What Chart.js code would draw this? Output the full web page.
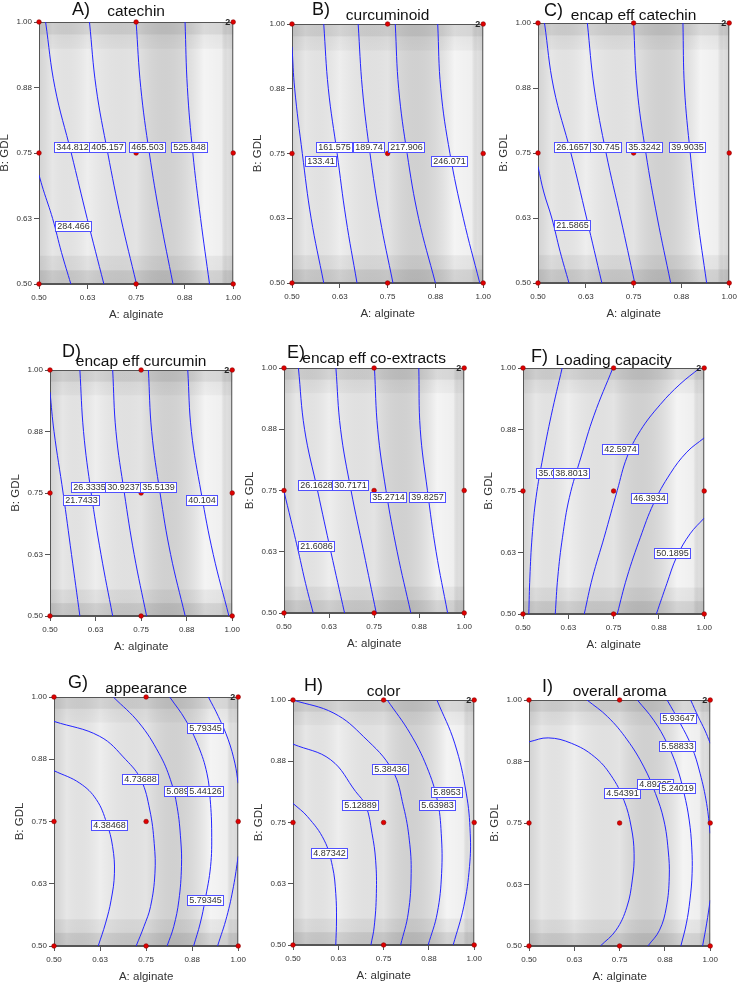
<!DOCTYPE html>
<html>
<head>
<meta charset="utf-8">
<script src="https://cdn.jsdelivr.net/npm/chart.js@4.4.0/dist/chart.umd.min.js"></script>
<style>
html, body { margin: 0; padding: 0; background: #fff; width: 739px; height: 988px; overflow: hidden; position: relative; }
canvas.panel { position: absolute; }
</style>
</head>
<body>
<script>
// axes shared by every panel
const axisTicks = [0.5, 0.625, 0.75, 0.875, 1.0];
const tickLabels = ['0.50', '0.63', '0.75', '0.88', '1.00'];
const designAlginate = [0.5, 0.75, 1, 0.5, 0.75, 1, 0.5, 0.75, 1];
const designGDL = [0.5, 0.5, 0.5, 0.75, 0.75, 0.75, 1, 1, 1];

// A) catechin
const catechinLevels = ['344.812', '405.157', '465.503', '525.848', '284.466'];
const catechinLabelPos = [[0.586, 0.761], [0.677, 0.761], [0.779, 0.761], [0.887, 0.761], [0.588, 0.610]];
const catechinContours = [
  [[0.5, 0.708], [0.511, 0.68], [0.535, 0.625], [0.558, 0.56], [0.582, 0.5]],
  [[0.517, 1], [0.541, 0.875], [0.583, 0.75], [0.624, 0.625], [0.667, 0.5]],
  [[0.630, 1], [0.647, 0.875], [0.677, 0.75], [0.711, 0.625], [0.751, 0.5]],
  [[0.750, 1], [0.762, 0.875], [0.784, 0.75], [0.812, 0.625], [0.845, 0.5]],
  [[0.876, 1], [0.882, 0.875], [0.896, 0.75], [0.916, 0.625], [0.939, 0.5]]
];

// B) curcuminoid
const curcuminoidLevels = ['161.575', '189.74', '217.906', '133.41', '246.071'];
const curcuminoidLabelPos = [[0.611, 0.761], [0.701, 0.761], [0.799, 0.761], [0.576, 0.735], [0.912, 0.735]];
const curcuminoidContours = [
  [[0.5, 0.956], [0.507, 0.875], [0.527, 0.75], [0.550, 0.625], [0.583, 0.5]],
  [[0.583, 1], [0.595, 0.875], [0.618, 0.75], [0.641, 0.625], [0.670, 0.5]],
  [[0.673, 1], [0.684, 0.875], [0.704, 0.75], [0.730, 0.625], [0.764, 0.5]],
  [[0.770, 1], [0.779, 0.875], [0.801, 0.75], [0.831, 0.625], [0.875, 0.5]],
  [[0.881, 1], [0.889, 0.875], [0.913, 0.75], [0.948, 0.625], [0.991, 0.5]]
];

// C) encap eff catechin
const encCatechinLevels = ['26.1657', '30.745', '35.3242', '39.9035', '21.5865'];
const encCatechinLabelPos = [[0.590, 0.760], [0.678, 0.760], [0.779, 0.760], [0.891, 0.760], [0.589, 0.610]];
const encCatechinContours = [
  [[0.5, 0.724], [0.515, 0.675], [0.536, 0.625], [0.558, 0.56], [0.581, 0.5]],
  [[0.517, 1], [0.541, 0.875], [0.586, 0.75], [0.627, 0.625], [0.667, 0.5]],
  [[0.629, 1], [0.647, 0.875], [0.678, 0.75], [0.716, 0.625], [0.753, 0.5]],
  [[0.750, 1], [0.759, 0.875], [0.782, 0.75], [0.812, 0.625], [0.847, 0.5]],
  [[0.879, 1], [0.883, 0.875], [0.898, 0.75], [0.917, 0.625], [0.941, 0.5]]
];

// D) encap eff curcumin
const encCurcuminLevels = ['26.3335', '30.9237', '35.5139', '21.7433', '40.104'];
const encCurcuminLabelPos = [[0.608, 0.761], [0.701, 0.761], [0.799, 0.761], [0.587, 0.735], [0.917, 0.734]];
const encCurcuminContours = [
  [[0.5, 0.955], [0.511, 0.875], [0.536, 0.75], [0.559, 0.625], [0.582, 0.5]],
  [[0.582, 1], [0.592, 0.875], [0.613, 0.75], [0.640, 0.625], [0.672, 0.5]],
  [[0.672, 1], [0.681, 0.875], [0.704, 0.75], [0.731, 0.625], [0.765, 0.5]],
  [[0.770, 1], [0.779, 0.875], [0.802, 0.75], [0.831, 0.625], [0.871, 0.5]],
  [[0.878, 1], [0.888, 0.875], [0.915, 0.75], [0.948, 0.625], [0.991, 0.5]]
];

// E) encap eff co-extracts
const encCoLevels = ['26.1628', '30.7171', '35.2714', '39.8257', '21.6086'];
const encCoLabelPos = [[0.590, 0.760], [0.685, 0.760], [0.791, 0.736], [0.897, 0.736], [0.590, 0.635]];
const encCoContours = [
  [[0.5, 0.748], [0.519, 0.69], [0.540, 0.625], [0.560, 0.56], [0.581, 0.5]],
  [[0.540, 1], [0.557, 0.875], [0.593, 0.75], [0.630, 0.625], [0.668, 0.5]],
  [[0.644, 1], [0.657, 0.875], [0.686, 0.75], [0.721, 0.625], [0.756, 0.5]],
  [[0.751, 1], [0.760, 0.875], [0.783, 0.75], [0.814, 0.625], [0.852, 0.5]],
  [[0.874, 1], [0.878, 0.875], [0.898, 0.75], [0.922, 0.625], [0.954, 0.5]]
];

// F) Loading capacity
const loadingLevels = ['35.0052', '38.8013', '42.5974', '46.3934', '50.1895'];
const loadingLabelPos = [[0.588, 0.785], [0.634, 0.785], [0.770, 0.835], [0.849, 0.734], [0.912, 0.623]];
const loadingContours = [
  [[0.516, 0.5], [0.519, 0.575], [0.525, 0.656], [0.536, 0.737], [0.555, 0.819], [0.578, 0.904], [0.608, 1]],
  [[0.589, 0.5], [0.596, 0.575], [0.609, 0.656], [0.628, 0.737], [0.660, 0.819], [0.696, 0.904], [0.748, 1]],
  [[0.669, 0.5], [0.692, 0.575], [0.724, 0.656], [0.760, 0.751], [0.787, 0.819], [0.824, 0.873], [0.879, 0.926], [0.933, 0.967], [0.988, 1]],
  [[0.760, 0.5], [0.787, 0.575], [0.824, 0.656], [0.860, 0.724], [0.906, 0.785], [0.952, 0.829], [1, 0.858]],
  [[0.868, 0.5], [0.897, 0.562], [0.924, 0.616], [0.961, 0.663], [1, 0.695]]
];

// G) appearance
const appearanceLevels = ['4.38468', '4.73688', '5.08907', '5.44126', '5.79345', '5.79345'];
const appearanceLabelPos = [[0.651, 0.742], [0.736, 0.835], [0.848, 0.810], [0.911, 0.810], [0.911, 0.936], [0.911, 0.591]];
const appearanceContours = [
  [[0.5, 0.852], [0.570, 0.827], [0.615, 0.794], [0.643, 0.747], [0.659, 0.700], [0.664, 0.646], [0.655, 0.592], [0.640, 0.546], [0.620, 0.5]],
  [[0.5, 0.951], [0.624, 0.921], [0.695, 0.874], [0.736, 0.834], [0.760, 0.773], [0.772, 0.706], [0.774, 0.646], [0.762, 0.579], [0.744, 0.539], [0.723, 0.5]],
  [[0.661, 1], [0.731, 0.948], [0.785, 0.887], [0.816, 0.834], [0.834, 0.780], [0.844, 0.713], [0.846, 0.660], [0.839, 0.592], [0.825, 0.539], [0.807, 0.5]],
  [[0.814, 1], [0.857, 0.954], [0.892, 0.901], [0.915, 0.847], [0.924, 0.794], [0.928, 0.727], [0.925, 0.660], [0.910, 0.592], [0.897, 0.546], [0.879, 0.5]],
  [[0.919, 1], [0.946, 0.961], [0.973, 0.914], [0.991, 0.867], [1, 0.827]],
  [[1, 0.680], [0.987, 0.619], [0.969, 0.559], [0.944, 0.5]]
];

// H) color
const colorLevels = ['4.87342', '5.12889', '5.38436', '5.63983', '5.8953'];
const colorLabelPos = [[0.600, 0.687], [0.687, 0.784], [0.769, 0.859], [0.899, 0.784], [0.925, 0.812]];
const colorContours = [
  [[0.5, 0.789], [0.540, 0.762], [0.586, 0.714], [0.609, 0.660], [0.618, 0.605], [0.620, 0.551], [0.618, 0.5]],
  [[0.5, 0.910], [0.604, 0.878], [0.673, 0.813], [0.701, 0.784], [0.718, 0.728], [0.728, 0.673], [0.730, 0.605], [0.724, 0.537], [0.715, 0.5]],
  [[0.5, 1], [0.613, 0.973], [0.695, 0.925], [0.774, 0.857], [0.805, 0.782], [0.821, 0.714], [0.826, 0.646], [0.818, 0.565], [0.797, 0.5]],
  [[0.760, 1], [0.823, 0.932], [0.869, 0.864], [0.898, 0.796], [0.909, 0.728], [0.910, 0.646], [0.898, 0.565], [0.873, 0.5]],
  [[0.897, 1], [0.946, 0.912], [0.978, 0.810], [0.989, 0.728], [0.987, 0.660], [0.971, 0.578], [0.942, 0.5]]
];

// I) overall aroma
const aromaLevels = ['4.54391', '4.89205', '5.24019', '5.58833', '5.93647'];
const aromaLabelPos = [[0.759, 0.810], [0.848, 0.829], [0.910, 0.820], [0.911, 0.906], [0.912, 0.963]];
const aromaContours = [
  [[0.5, 0.915], [0.553, 0.923], [0.617, 0.912], [0.680, 0.885], [0.726, 0.847], [0.762, 0.796], [0.782, 0.742], [0.790, 0.688], [0.785, 0.634], [0.770, 0.579], [0.740, 0.532], [0.697, 0.5]],
  [[0.660, 1], [0.717, 0.966], [0.771, 0.919], [0.817, 0.864], [0.849, 0.810], [0.872, 0.756], [0.884, 0.695], [0.887, 0.640], [0.879, 0.579], [0.860, 0.532], [0.828, 0.5]],
  [[0.799, 1], [0.844, 0.959], [0.881, 0.912], [0.908, 0.864], [0.928, 0.810], [0.942, 0.756], [0.949, 0.701], [0.950, 0.647], [0.944, 0.593], [0.934, 0.545], [0.919, 0.5]],
  [[0.881, 1], [0.917, 0.953], [0.949, 0.905], [0.972, 0.851], [0.990, 0.790], [1, 0.729]],
  [[1, 0.593], [0.990, 0.545], [0.979, 0.5]],
  [[0.946, 1], [0.967, 0.966], [0.985, 0.939], [1, 0.912]]
];

// panel placement (plot area in page pixels) and title offsets
const panels = [
  { letter: 'A)', name: 'catechin', box: [39, 22, 196, 262], letterOff: [33, -12], nameOff: -10, levels: catechinLevels, labelPos: catechinLabelPos, lines: catechinContours },
  { letter: 'B)', name: 'curcuminoid', box: [292, 24, 193, 259], letterOff: [20, -14], nameOff: -8, levels: curcuminoidLevels, labelPos: curcuminoidLabelPos, lines: curcuminoidContours },
  { letter: 'C)', name: 'encap eff catechin', box: [538, 23, 193, 260], letterOff: [6, -12], nameOff: -7, levels: encCatechinLevels, labelPos: encCatechinLabelPos, lines: encCatechinContours },
  { letter: 'D)', name: 'encap eff curcumin', box: [50, 370, 184, 246], letterOff: [12, -18], nameOff: -8, levels: encCurcuminLevels, labelPos: encCurcuminLabelPos, lines: encCurcuminContours },
  { letter: 'E)', name: 'encap eff co-extracts', box: [284, 368, 182, 245], letterOff: [3, -15], nameOff: -9, levels: encCoLevels, labelPos: encCoLabelPos, lines: encCoContours },
  { letter: 'F)', name: 'Loading capacity', box: [523, 368, 183, 246], letterOff: [8, -11], nameOff: -7, levels: loadingLevels, labelPos: loadingLabelPos, lines: loadingContours },
  { letter: 'G)', name: 'appearance', box: [54, 697, 186, 249], letterOff: [14, -14], nameOff: -8, levels: appearanceLevels, labelPos: appearanceLabelPos, lines: appearanceContours },
  { letter: 'H)', name: 'color', box: [293, 700, 183, 245], letterOff: [11, -14], nameOff: -8, levels: colorLevels, labelPos: colorLabelPos, lines: colorContours },
  { letter: 'I)', name: 'overall aroma', box: [529, 700, 183, 246], letterOff: [13, -13], nameOff: -8, levels: aromaLevels, labelPos: aromaLabelPos, lines: aromaContours }
];

const FONT = '"Liberation Sans", Arial, sans-serif';
const PAD_L = 50, PAD_T = 32, PAD_B = 40, PAD_R = 10;
const LINE_BLUE = '#2424ff';

panels.forEach(function (p) {
  const [l, t, w, h] = p.box;
  const canvas = document.createElement('canvas');
  canvas.className = 'panel';
  canvas.width = w + PAD_L + PAD_R;
  canvas.height = h + PAD_T + PAD_B;
  canvas.style.left = (l - PAD_L) + 'px';
  canvas.style.top = (t - PAD_T) + 'px';
  document.body.appendChild(canvas);

  const datasets = [{
    label: 'design points',
    data: designAlginate.map((a, i) => ({ x: a, y: designGDL[i] })),
    pointRadius: 2.3,
    pointBackgroundColor: '#e00000',
    pointBorderColor: '#8a0000',
    pointBorderWidth: 0.6,
    showLine: false,
    clip: 6
  }];
  p.lines.forEach(function (line) {
    datasets.push({
      data: line.map(pt => ({ x: pt[0], y: pt[1] })),
      showLine: true,
      pointRadius: 0,
      borderColor: LINE_BLUE,
      borderWidth: 1,
      tension: 0.4,
      clip: 0
    });
  });

  // shaded background, frame, titles and contour labels
  const deco = {
    id: 'deco',
    beforeDatasetsDraw(chart) {
      const { ctx, chartArea: a } = chart;
      ctx.save();
      ctx.fillStyle = '#ebebeb';
      ctx.fillRect(a.left, a.top, a.width, a.height);
      const gh = ctx.createLinearGradient(a.left, 0, a.right, 0);
      gh.addColorStop(0, 'rgba(0,0,0,0.10)');
      gh.addColorStop(0.03, 'rgba(0,0,0,0.07)');
      gh.addColorStop(0.07, 'rgba(0,0,0,0.02)');
      gh.addColorStop(0.25, 'rgba(255,255,255,0.15)');
      gh.addColorStop(0.5, 'rgba(0,0,0,0.03)');
      gh.addColorStop(0.85, 'rgba(255,255,255,0.45)');
      gh.addColorStop(0.94, 'rgba(255,255,255,0.2)');
      gh.addColorStop(0.97, 'rgba(0,0,0,0.05)');
      gh.addColorStop(1, 'rgba(0,0,0,0.09)');
      ctx.fillStyle = gh;
      ctx.fillRect(a.left, a.top, a.width, a.height);
      const gv = ctx.createLinearGradient(0, a.top, 0, a.bottom);
      gv.addColorStop(0, 'rgba(0,0,0,0.11)');
      gv.addColorStop(0.045, 'rgba(0,0,0,0.11)');
      gv.addColorStop(0.05, 'rgba(0,0,0,0.05)');
      gv.addColorStop(0.1, 'rgba(0,0,0,0.03)');
      gv.addColorStop(0.105, 'rgba(0,0,0,0.0)');
      gv.addColorStop(0.89, 'rgba(0,0,0,0.0)');
      gv.addColorStop(0.895, 'rgba(0,0,0,0.05)');
      gv.addColorStop(0.945, 'rgba(0,0,0,0.06)');
      gv.addColorStop(0.95, 'rgba(0,0,0,0.13)');
      gv.addColorStop(1, 'rgba(0,0,0,0.14)');
      ctx.fillStyle = gv;
      ctx.fillRect(a.left, a.top, a.width, a.height);
      ctx.strokeStyle = '#555';
      ctx.lineWidth = 1;
      ctx.strokeRect(a.left + 0.5, a.top + 0.5, a.width - 1, a.height - 1);
      ctx.restore();
    },
    afterDatasetsDraw(chart) {
      const { ctx, chartArea: a, scales } = chart;
      ctx.save();
      ctx.font = '9px ' + FONT;
      ctx.textAlign = 'center';
      ctx.textBaseline = 'middle';
      p.levels.forEach(function (txt, i) {
        const px = scales.x.getPixelForValue(p.labelPos[i][0]);
        const py = scales.y.getPixelForValue(p.labelPos[i][1]);
        const bw = Math.round(ctx.measureText(txt).width + 4), bh = 11;
        const bx = Math.round(px - bw / 2), by = Math.round(py - bh / 2);
        ctx.fillStyle = '#fff';
        ctx.fillRect(bx, by, bw, bh);
        ctx.strokeStyle = '#5050ff';
        ctx.lineWidth = 1;
        ctx.strokeRect(bx + 0.5, by + 0.5, bw - 1, bh - 1);
        ctx.fillStyle = '#333';
        ctx.fillText(txt, bx + bw / 2, by + bh / 2 + 0.5);
      });
      // replicate count at the corner point
      ctx.font = 'bold 9px ' + FONT;
      ctx.textAlign = 'right';
      ctx.fillStyle = '#222';
      ctx.fillText('2', a.right - 3, a.top + 0.5);
      // titles
      ctx.fillStyle = '#111';
      ctx.font = '15.5px ' + FONT;
      ctx.textAlign = 'center';
      ctx.fillText(p.name, (a.left + a.right) / 2, a.top + p.nameOff);
      ctx.font = '18px ' + FONT;
      ctx.textAlign = 'left';
      ctx.fillText(p.letter, a.left + p.letterOff[0], a.top + p.letterOff[1]);
      ctx.restore();
    }
  };

  const tickFont = { size: 8, family: FONT };
  new Chart(canvas, {
    type: 'scatter',
    data: { datasets: datasets },
    options: {
      responsive: false,
      animation: false,
      devicePixelRatio: 1,
      layout: { padding: { left: 0, right: PAD_R, top: PAD_T, bottom: 0 } },
      plugins: { legend: { display: false }, tooltip: { enabled: false }, title: { display: false } },
      scales: {
        x: {
          type: 'linear', min: 0.5, max: 1,
          afterBuildTicks: s => { s.ticks = axisTicks.map(v => ({ value: v })); },
          afterFit: s => { s.height = PAD_B; },
          ticks: { callback: (v, i) => tickLabels[i], font: tickFont, color: '#333', padding: 4, maxRotation: 0, autoSkip: false },
          grid: { drawOnChartArea: false, tickLength: 5, color: '#555' },
          border: { color: '#555' },
          title: { display: true, text: 'A: alginate', font: { size: 11.5, family: FONT }, color: '#333', padding: { top: 0, bottom: 2 } }
        },
        y: {
          type: 'linear', min: 0.5, max: 1,
          afterBuildTicks: s => { s.ticks = axisTicks.map(v => ({ value: v })); },
          afterFit: s => { s.width = PAD_L; },
          ticks: { callback: (v, i) => tickLabels[i], font: tickFont, color: '#333', padding: 2, autoSkip: false },
          grid: { drawOnChartArea: false, tickLength: 5, color: '#555' },
          border: { color: '#555' },
          title: { display: true, text: 'B: GDL', font: { size: 11.5, family: FONT }, color: '#333', padding: { top: 9, bottom: 0 } }
        }
      }
    },
    plugins: [deco]
  });
});
</script>
</body>
</html>
